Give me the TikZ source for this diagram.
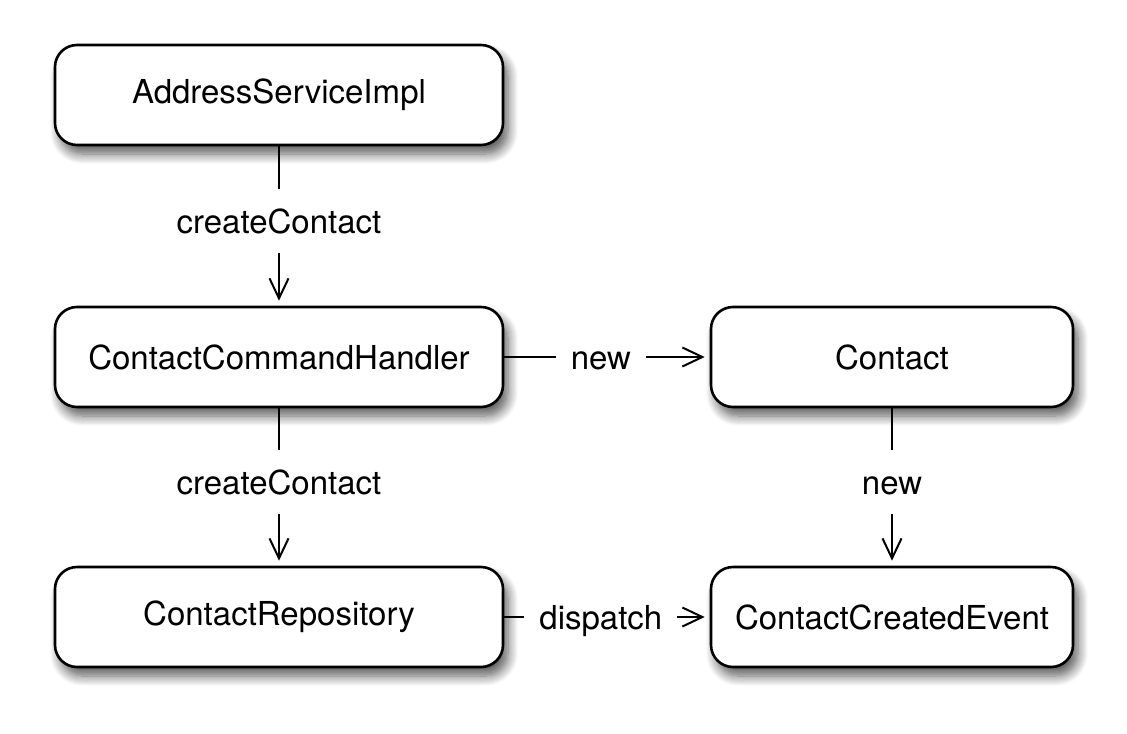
\documentclass[tikz,border=0pt]{standalone}
\usepackage{fontspec}
\setmainfont{TeX Gyre Heros}
\usetikzlibrary{arrows.meta,shadows.blur}
\tikzset{
  box/.style={draw=black, line width=1.3pt, rounded corners=11pt, fill=white,
    minimum height=50pt, inner sep=0pt, font=\fontsize{16.5}{20}\selectfont,
    blur shadow={shadow xshift=2.5pt, shadow yshift=-4.5pt, shadow blur steps=10, shadow blur radius=5pt, shadow opacity=65}},
  wide/.style={minimum width=224pt},
  narrow/.style={minimum width=181pt},
  conn/.style={line width=1pt, -{Straight Barb[length=10pt,width=9.5pt,line width=1pt]}, shorten >=2.5pt},
  lbl/.style={fill=white, font=\fontsize{16.5}{20}\selectfont, inner xsep=7.5pt, inner ysep=10pt, text height=12pt, text depth=0pt}
}
\begin{document}
\begin{tikzpicture}[x=0.5pt,y=-0.5pt]
\useasboundingbox (0,0) rectangle (1127,733);
\node[box,wide] (asi) at (279,95) {AddressServiceImpl};
\node[box,wide] (cch) at (279,357) {ContactCommandHandler};
\node[box,wide] (cr) at (279,617) {ContactRepository};
\node[box,narrow] (c) at (892,357) {Contact};
\node[box,narrow] (cce) at (892,617) {ContactCreatedEvent};
\draw[conn] (asi) -- node[lbl, pos=0.47]{createContact} (cch);
\draw[conn] (cch) -- node[lbl, pos=0.47]{createContact} (cr);
\draw[conn] (cch) -- node[lbl, pos=0.47]{new} (c);
\draw[conn] (c) -- node[lbl, pos=0.47]{new} (cce);
\draw[conn] (cr) -- node[lbl, pos=0.47]{dispatch} (cce);
\end{tikzpicture}
\end{document}
